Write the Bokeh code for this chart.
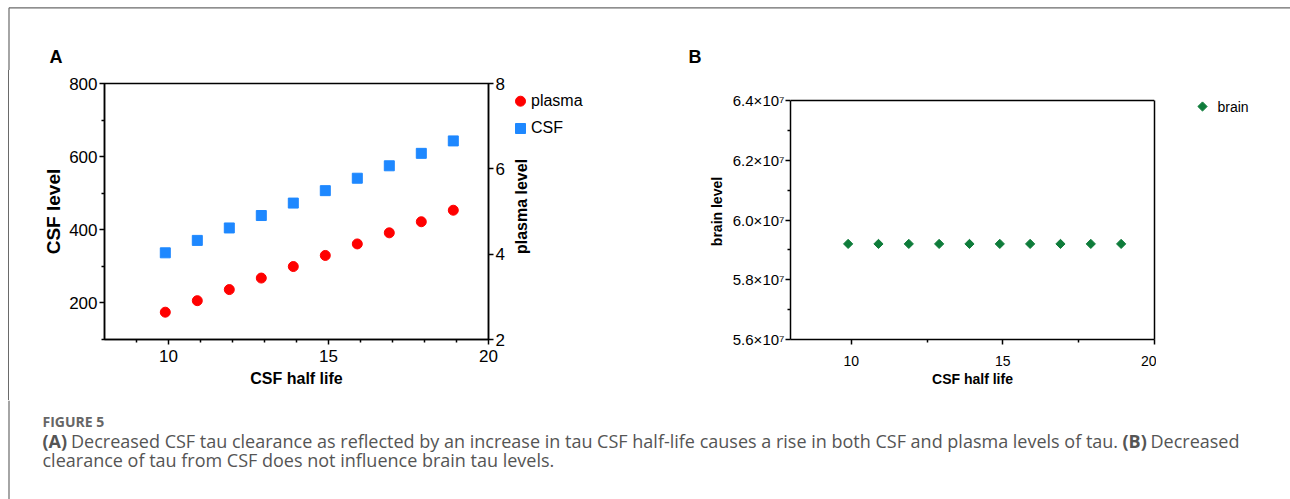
import math
from bokeh.plotting import figure
from bokeh.models import Range1d, LinearAxis, FixedTicker, Span, Div
from bokeh.layouts import column, row
from bokeh.embed import file_html
from bokeh.resources import INLINE
from bokeh.core.properties import value

# ---------------- data ----------------
half_life = [9.9, 10.9, 11.9, 12.9, 13.9, 14.9, 15.9, 16.9, 17.9, 18.9]
csf_level = [337, 371, 405, 439, 473, 507, 541, 575, 609, 643]
plasma_level = [2.64, 2.91, 3.17, 3.44, 3.71, 3.97, 4.24, 4.50, 4.76, 5.03]
brain_level = [5.92e7, 5.92e7, 5.92e7, 5.92e7, 5.92e7, 5.92e7, 5.92e7, 5.92e7, 5.92e7, 5.92e7]

x_ticks = [10, 15, 20]
x_minor_a = [9, 11, 12, 13, 14, 16, 17, 18, 19]
x_minor_b = [12.5, 17.5]
csf_ticks = [200, 400, 600, 800]
csf_minor = [100, 300, 500, 700]
plasma_ticks = [2, 4, 6, 8]
brain_ticks = [56000000, 58000000, 60000000, 62000000, 64000000]
brain_minor = [57000000, 59000000, 61000000, 63000000]
brain_tick_labels = ["5.6×10⁷", "5.8×10⁷", "6.0×10⁷", "6.2×10⁷", "6.4×10⁷"]
brain_lo, brain_hi = 56000000, 64000000

legend_a = ["plasma", "CSF"]
legend_b = ["brain"]

caption_head = "FIGURE 5"
caption_line1 = [("(A)", True), ("Decreased CSF tau clearance as reflected by an increase in tau CSF half-life causes a rise in both CSF and plasma levels of tau.", False), ("(B)", True), ("Decreased", False)]
caption_line2 = "clearance of tau from CSF does not influence brain tau levels."

FONT = "Liberation Sans"
CAP_FONT = "Open Sans"
RED = "#FF0000"
BLUE = "#1E88FF"
GREEN = "#0E7C3A"
BORDER = "#6a6a6a"
CAP_COLOR = "#555555"


def dy(size):
    # svg text baseline correction (alphabetic)
    return -0.36 * size


def pix_fig(w, h, top=0, bottom=0):
    # data units == pixels (y downward) inside the frame
    p = figure(width=w, height=h, x_range=Range1d(0, w), y_range=Range1d(h - bottom, top),
               output_backend="svg", toolbar_location=None,
               x_axis_location=None, y_axis_location=None,
               min_border_left=0, min_border_right=0, min_border_top=top, min_border_bottom=bottom)
    p.grid.grid_line_color = None
    p.outline_line_color = None
    p.background_fill_color = "white"
    p.border_fill_color = "white"
    return p


def style_axis(ax, tick_size, label_size, s1, s2):
    ax.axis_line_color = "black"
    ax.axis_line_width = 1.5
    ax.major_tick_line_color = "black"
    ax.major_tick_line_width = 1.5
    ax.minor_tick_line_color = "black"
    ax.minor_tick_line_width = 1.5
    ax.major_tick_in = 0
    ax.major_tick_out = 5
    ax.minor_tick_in = 0
    ax.minor_tick_out = 3
    ax.major_label_text_font = FONT
    ax.major_label_text_font_size = tick_size
    ax.major_label_text_color = "black"
    ax.axis_label_text_font = FONT
    ax.axis_label_text_font_size = label_size
    ax.axis_label_text_font_style = "bold"
    ax.axis_label_text_color = "black"
    ax.major_label_standoff = s1
    ax.axis_label_standoff = s2


# ---------------- top strip (border + panel letters) ----------------
top = pix_fig(1290, 70)
top.line([8.5, 1290], [7.3, 7.3], line_color=BORDER, line_width=1.2)
top.line([8.5, 8.5], [7.3, 70], line_color=BORDER, line_width=1.2)
top.text(x=[49, 688], y=[63 + dy(18), 63 + dy(18)], text=["A", "B"], text_font=value(FONT),
         text_font_size="18px", text_font_style="bold", text_color="black",
         text_baseline="alphabetic", text_align="left")

# left border piece of the middle row
left_mid = Div(text="", width=20, height=330, margin=0,
               styles={"background": "linear-gradient(90deg, #ffffff 8px, %s 8px, %s 9px, #ffffff 9px)" % (BORDER, BORDER)})

# ---------------- panel A ----------------
pa = figure(width=488, height=330, x_range=Range1d(8, 20), y_range=Range1d(100, 800),
            output_backend="svg", toolbar_location=None,
            min_border_left=84, min_border_right=20, min_border_top=13, min_border_bottom=61)
pa.extra_y_ranges = {"plasma": Range1d(2, 8)}
pa.grid.grid_line_color = None
pa.outline_line_color = "black"
pa.outline_line_width = 1.5
pa.border_fill_color = "white"

pa.xaxis.ticker = FixedTicker(ticks=x_ticks, minor_ticks=x_minor_a)
pa.xaxis.axis_label = "CSF half life"
style_axis(pa.xaxis[0], "17px", "16px", 5, 5)
pa.yaxis.ticker = FixedTicker(ticks=csf_ticks, minor_ticks=csf_minor)
pa.yaxis.axis_label = "CSF level"
style_axis(pa.yaxis[0], "17px", "19px", 2, 2)

ax_r = LinearAxis(y_range_name="plasma", ticker=FixedTicker(ticks=plasma_ticks, minor_ticks=[]))
style_axis(ax_r, "17px", "16px", 2, 0)
pa.add_layout(ax_r, "right")

pa.scatter(half_life, csf_level, marker="square", size=10, color=BLUE)
pa.scatter(half_life, plasma_level, y_range_name="plasma", marker="circle", size=10, color=RED)

# legend + right axis title of panel A (drawn beside the plot)
leg_a = pix_fig(152, 330, top=13, bottom=61)
leg_a.scatter([12], [30.7], marker="circle", size=10, color=RED)
leg_a.scatter([12], [58], marker="square", size=10, color=BLUE)
leg_a.text(x=[22.5, 22.5], y=[35.5 + dy(16), 63 + dy(16)], text=legend_a, text_font=value(FONT),
           text_font_size="16px", text_color="black", text_baseline="alphabetic")
leg_a.text(x=[13], y=[136], text=["plasma level"], angle=math.pi / 2, text_font=value(FONT),
           text_font_size="16px", text_font_style="bold", text_color="black",
           text_align="center", text_baseline="middle")

# ---------------- panel B ----------------
# frame shares top/bottom with panel A (row alignment); the B box spans 100..339 px of it
b_top_ext = brain_hi + (100 - 83) / (339 - 100) * (brain_hi - brain_lo)
pb = figure(width=496, height=330, x_range=Range1d(8, 20), y_range=Range1d(brain_lo, b_top_ext),
            output_backend="svg", toolbar_location=None,
            min_border_left=130, min_border_right=2, min_border_top=13, min_border_bottom=61)
pb.grid.grid_line_color = None
pb.outline_line_color = None
pb.border_fill_color = "white"

pb.xaxis.ticker = FixedTicker(ticks=x_ticks, minor_ticks=x_minor_b)
pb.xaxis.axis_label = "CSF half life"
style_axis(pb.xaxis[0], "14px", "14px", 11, 2)
pb.yaxis.ticker = FixedTicker(ticks=brain_ticks, minor_ticks=brain_minor)
pb.yaxis.major_label_overrides = {t: lab for t, lab in zip(brain_ticks, brain_tick_labels)}
pb.yaxis.axis_label = "brain level"
pb.yaxis.bounds = (brain_lo, brain_hi)
style_axis(pb.yaxis[0], "15px", "14px", 1, 5)

ax_rb = LinearAxis(ticker=FixedTicker(ticks=[], minor_ticks=[]), bounds=(brain_lo, brain_hi))
style_axis(ax_rb, "14px", "14px", 0, 0)
ax_rb.major_tick_out = 0
ax_rb.minor_tick_out = 0
pb.add_layout(ax_rb, "right")
pb.add_layout(Span(location=brain_hi, dimension="width", line_color="black", line_width=1.5))

pb.scatter(half_life, brain_level, marker="square", angle=math.pi / 4, size=6.5, color=GREEN)

leg_b = pix_fig(134, 330, top=13, bottom=61)
leg_b.scatter([46], [36], marker="square", angle=math.pi / 4, size=6.5, color=GREEN)
leg_b.text(x=[61], y=[42 + dy(14)], text=legend_b, text_font=value(FONT),
           text_font_size="14px", text_color="black", text_baseline="alphabetic")

# ---------------- caption ----------------
CAP_SIZE = 18
seg_x = [42, 70.5, 1122, 1150]   # left edges of the line-1 pieces (px)
cap = pix_fig(1290, 99)
cap.line([8.5, 8.5], [0, 99], line_color=BORDER, line_width=1.2)
cap.text(x=[42], y=[26 + dy(14)], text=[caption_head], text_font=value(CAP_FONT), text_font_size="14px",
         text_font_style="bold", text_color="#666666", text_baseline="alphabetic")
for (seg, b), x in zip(caption_line1, seg_x):
    cap.text(x=[x], y=[47 + dy(CAP_SIZE)], text=[seg], text_font=value(CAP_FONT),
             text_font_size=f"{CAP_SIZE}px", text_font_style="bold" if b else "normal",
             text_color=CAP_COLOR, text_baseline="alphabetic")
cap.text(x=[42], y=[66 + dy(CAP_SIZE)], text=[caption_line2], text_font=value(CAP_FONT),
         text_font_size=f"{CAP_SIZE}px", text_color=CAP_COLOR, text_baseline="alphabetic")

layout = column(top, row(left_mid, pa, leg_a, pb, leg_b), cap)
open("out.html", "w").write(file_html(layout, INLINE))
